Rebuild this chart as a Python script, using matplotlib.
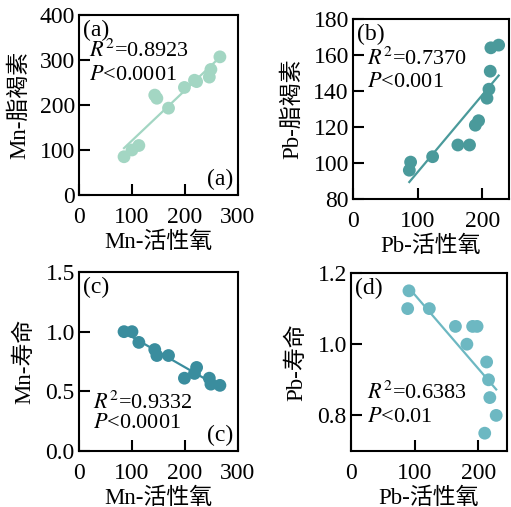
import matplotlib
matplotlib.use("Agg")
import matplotlib.pyplot as plt
import numpy as np

plt.rcParams["font.family"] = ["Liberation Serif", "Noto Sans CJK SC"]
plt.rcParams["mathtext.fontset"] = "stix"

# (a) / (c): Mn treatment
mn_ros = [85, 100, 113, 143, 147, 169, 199, 218, 222, 246, 249, 266]
mn_lipo = [85, 100, 110, 222, 215, 193, 239, 255, 252, 262, 279, 307]
mn_life = [1.0, 1.0, 0.91, 0.85, 0.80, 0.80, 0.61, 0.65, 0.70, 0.61, 0.56, 0.55]

# (b) / (d): Pb treatment
pb_ros_b = [87, 89, 123, 162, 180, 189, 194, 207, 210, 212, 213, 225]
pb_lipo = [96, 100.5, 103.5, 110, 110, 121, 123.5, 136, 141, 151, 164, 165.5]
pb_ros_d = [91, 89, 123, 164, 182, 191, 198, 213, 216, 218, 228, 210]
pb_life = [1.15, 1.10, 1.10, 1.05, 1.0, 1.05, 1.05, 0.95, 0.90, 0.85, 0.80, 0.75]

panels = [
    dict(pos=[0.1546, 0.6154, 0.311, 0.355], x=mn_ros, y=mn_lipo, color="#a3d6c3",
         xlim=(0, 300), ylim=(0, 400), xticks=[0, 100, 200, 300], yticks=[0, 100, 200, 300, 400],
         xlabel="Mn-活性氧", ylabel="Mn-脂褐素", tag="(a)", tag2=True,
         r2="0.8923", p="0.0001", txt_y=(0.80, 0.665), txt_x=0.06),
    dict(pos=[0.6908, 0.6075, 0.3053, 0.355], x=pb_ros_b, y=pb_lipo, color="#4a9a9b",
         xlim=(0, 241), ylim=(80, 180), xticks=[0, 100, 200], yticks=[80, 100, 120, 140, 160, 180],
         xlabel="Pb-活性氧", ylabel="Pb-脂褐素", tag="(b)", tag2=False,
         r2="0.7370", p="0.001", txt_y=(0.78, 0.65), txt_x=0.09),
    dict(pos=[0.1546, 0.1105, 0.311, 0.353], x=mn_ros, y=mn_life, color="#3a8d9e",
         xlim=(0, 300), ylim=(0, 1.5), xticks=[0, 100, 200, 300], yticks=[0.0, 0.5, 1.0, 1.5],
         xlabel="Mn-活性氧", ylabel="Mn-寿命", tag="(c)", tag2=True,
         r2="0.9332", p="0.0001", txt_y=(0.27, 0.155), txt_x=0.09),
    dict(pos=[0.6869, 0.1105, 0.3053, 0.351], x=pb_ros_d, y=pb_life, color="#6db8c2",
         xlim=(0, 245), ylim=(0.7, 1.2), xticks=[0, 100, 200], yticks=[0.8, 1.0, 1.2],
         xlabel="Pb-活性氧", ylabel="Pb-寿命", tag="(d)", tag2=False,
         r2="0.6383", p="0.01", txt_y=(0.325, 0.19), txt_x=0.10),
]

fig = plt.figure(figsize=(5.11, 5.07), dpi=100)

for pn in panels:
    ax = fig.add_axes(pn["pos"])
    x = np.array(pn["x"], dtype=float)
    y = np.array(pn["y"], dtype=float)
    ax.scatter(x, y, s=85, color=pn["color"], edgecolors="none", zorder=3)
    k, b = np.polyfit(x, y, 1)
    xs = np.array([x.min(), x.max()])
    ax.plot(xs, k * xs + b, color=pn["color"], lw=1.6, zorder=2)

    ax.set_xlim(*pn["xlim"])
    ax.set_ylim(*pn["ylim"])
    ax.set_xticks(pn["xticks"])
    ax.set_yticks(pn["yticks"])
    if pn["ylim"][1] < 2:
        ax.set_yticklabels([f"{v:.1f}" for v in pn["yticks"]])
    ax.tick_params(direction="in", length=8, width=1.5, labelsize=17,
                   top=False, right=False)
    ax.tick_params(axis="x", pad=9)
    ax.tick_params(axis="y", pad=3)
    for sp in ax.spines.values():
        sp.set_linewidth(1.5)
    ax.set_xlabel(pn["xlabel"], fontsize=16.5, labelpad=2)
    ax.set_ylabel(pn["ylabel"], fontsize=16.5, labelpad=7)

    ax.text(0.025, 0.975, pn["tag"], transform=ax.transAxes, fontsize=17,
            ha="left", va="top")
    if pn["tag2"]:
        ax.text(0.97, 0.03, pn["tag"], transform=ax.transAxes, fontsize=17,
                ha="right", va="bottom")
    ax.text(pn["txt_x"], pn["txt_y"][0], r"$R^2$=" + pn["r2"], transform=ax.transAxes,
            fontsize=16, ha="left", va="center")
    ax.text(pn["txt_x"], pn["txt_y"][1], r"$P$<" + pn["p"], transform=ax.transAxes,
            fontsize=16, ha="left", va="center")

fig.savefig("out.png", dpi=100)
